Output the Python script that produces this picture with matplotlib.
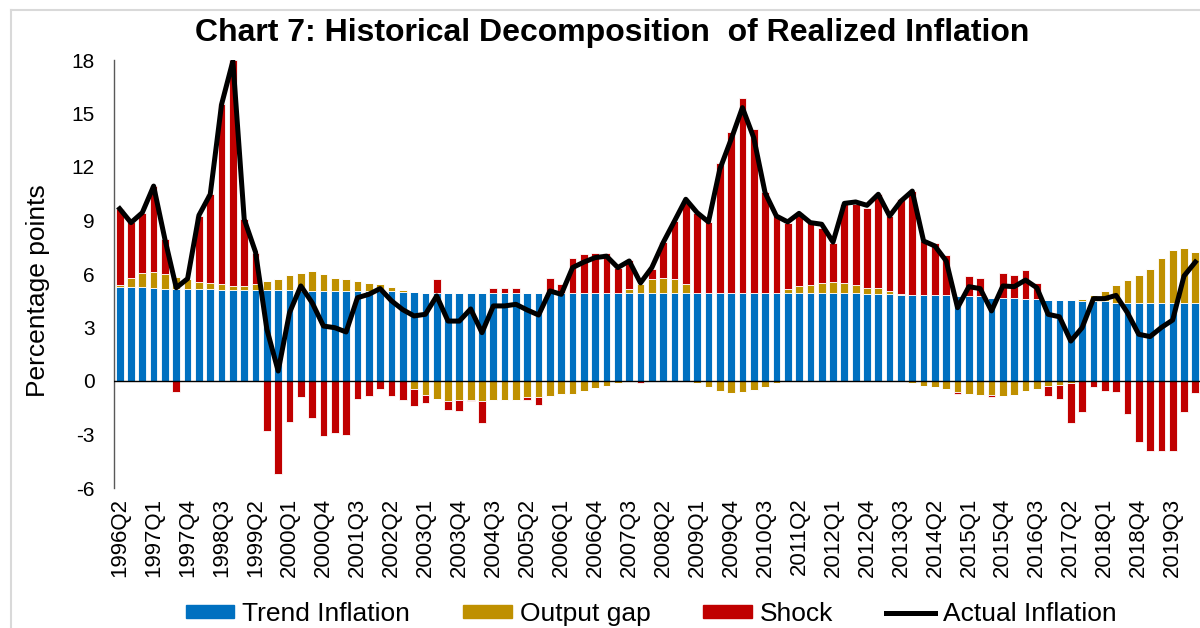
import numpy as np
import matplotlib
matplotlib.use("Agg")
import matplotlib.pyplot as plt
from matplotlib.patches import Patch
from matplotlib.lines import Line2D

plt.rcParams['font.family'] = ['Liberation Sans', 'DejaVu Sans']

# ---- data (1996Q2 .. 2020Q1) ----
quarters = [f"{y}Q{q}" for y in range(1996, 2021) for q in range(1, 5)]
quarters = quarters[quarters.index("1996Q2"):quarters.index("2020Q1") + 1]

trend = [5.25, 5.25, 5.25, 5.22, 5.18, 5.18, 5.18, 5.18, 5.18, 5.10,
         5.10, 5.10, 5.10, 5.10, 5.10, 5.10, 5.05, 5.05, 5.05, 5.05,
         5.05, 5.05, 5.05, 5.05, 5.05, 5.00, 5.00, 4.95, 4.95, 4.95,
         4.95, 4.95, 4.95, 4.95, 4.95, 4.95, 4.95, 4.95, 4.95, 4.95,
         4.95, 4.95, 4.95, 4.95, 4.95, 4.95, 4.95, 4.95, 4.95, 4.95,
         4.95, 4.95, 4.95, 4.95, 4.95, 4.95, 4.95, 4.95, 4.95, 4.95,
         4.95, 4.95, 4.95, 4.95, 4.95, 4.95, 4.87, 4.87, 4.87, 4.82,
         4.82, 4.80, 4.80, 4.80, 4.75, 4.75, 4.75, 4.68, 4.68, 4.68,
         4.62, 4.62, 4.54, 4.54, 4.54, 4.46, 4.46, 4.46, 4.40, 4.40,
         4.40, 4.40, 4.40, 4.36, 4.36, 4.36]

output_gap = [0.15, 0.50, 0.79, 0.88, 0.84, 0.67, 0.56, 0.39, 0.34, 0.36,
              0.23, 0.23, 0.36, 0.50, 0.63, 0.86, 1.02, 1.12, 0.97, 0.74,
              0.65, 0.55, 0.46, 0.41, 0.24, 0.10, -0.43, -0.80, -1.00, -1.10,
              -1.05, -1.05, -1.13, -1.05, -1.05, -1.05, -0.90, -0.87, -0.85, -0.72,
              -0.72, -0.58, -0.42, -0.26, -0.12, 0.20, 0.50, 0.79, 0.84, 0.79,
              0.50, -0.12, -0.33, -0.55, -0.68, -0.62, -0.48, -0.33, -0.12, 0.22,
              0.40, 0.46, 0.52, 0.58, 0.52, 0.46, 0.37, 0.32, 0.20, 0.05,
              -0.10, -0.30, -0.35, -0.45, -0.60, -0.72, -0.80, -0.78, -0.85, -0.80,
              -0.58, -0.45, -0.28, -0.21, -0.12, 0.12, 0.35, 0.60, 0.96, 1.26,
              1.53, 1.87, 2.50, 3.00, 3.08, 2.88]

shock = [4.23, 3.17, 3.40, 4.83, 1.96, -0.60, 0.00, 3.68, 4.95, 10.05,
         12.67, 3.74, 1.74, -2.80, -5.20, -2.30, -0.90, -2.05, -3.07, -2.90,
         -3.00, -1.00, -0.85, -0.45, -0.85, -1.05, -0.98, -0.45, 0.75, -0.55,
         -0.62, -0.08, -1.25, 0.25, 0.25, 0.28, -0.15, -0.45, 0.84, 0.50,
         1.97, 2.15, 2.25, 2.25, 1.41, 1.64, -0.10, 0.52, 2.00, 3.23,
         4.55, 4.49, 3.97, 7.25, 9.01, 10.94, 9.16, 5.65, 4.30, 3.71,
         4.05, 3.56, 3.13, 2.23, 4.44, 4.50, 4.48, 5.28, 4.18, 5.32,
         5.83, 3.05, 2.96, 2.25, -0.15, 1.14, 1.04, -0.10, 1.39, 1.26,
         1.60, 0.89, -0.58, -0.82, -2.25, -1.72, -0.32, -0.54, -0.62, -1.87,
         -3.40, -3.90, -3.95, -3.95, -1.72, -0.70]

actual = [9.66, 8.88, 9.44, 10.93, 7.94, 5.23, 5.74, 9.29, 10.47, 15.51,
          17.94, 9.07, 7.23, 2.90, 0.56, 3.83, 5.33, 4.39, 3.08, 2.99,
          2.75, 4.67, 4.86, 5.18, 4.50, 4.00, 3.65, 3.74, 4.77, 3.36,
          3.36, 4.04, 2.71, 4.21, 4.21, 4.30, 3.98, 3.70, 5.05, 4.86,
          6.36, 6.67, 6.92, 7.00, 6.36, 6.73, 5.50, 6.36, 7.76, 8.97,
          10.19, 9.44, 8.92, 11.87, 13.55, 15.33, 13.64, 10.56, 9.25, 8.92,
          9.40, 8.88, 8.79, 7.79, 9.96, 10.04, 9.85, 10.47, 9.25, 10.09,
          10.65, 7.85, 7.57, 6.73, 4.11, 5.29, 5.18, 3.93, 5.33, 5.29,
          5.66, 5.23, 3.74, 3.60, 2.24, 2.99, 4.62, 4.62, 4.80, 3.83,
          2.62, 2.49, 3.00, 3.42, 5.89, 6.67]

series_names = ["Trend Inflation", "Output gap", "Shock", "Actual Inflation"]
yticks = [-6, -3, 0, 3, 6, 9, 12, 15, 18]

# ---- styling ----
C_TREND = "#0070C0"
C_GAP = "#BF9000"
C_SHOCK = "#C00000"

fig = plt.figure(figsize=(12, 6.28), dpi=100)
ax = fig.add_axes([114 / 1200, 1 - 488 / 628, 1087 / 1200, 428 / 628])

x = np.arange(len(quarters))
t = np.array(trend)
g = np.array(output_gap)
s = np.array(shock)
gpos, gneg = np.clip(g, 0, None), np.clip(g, None, 0)
spos, sneg = np.clip(s, 0, None), np.clip(s, None, 0)

w = 0.68
kw = dict(width=w, linewidth=0.6, edgecolor="white", zorder=2)
ax.bar(x, t, color=C_TREND, **kw)
ax.bar(x, gpos, bottom=t, color=C_GAP, **kw)
ax.bar(x, gneg, bottom=0, color=C_GAP, **kw)
ax.bar(x, spos, bottom=t + gpos, color=C_SHOCK, **kw)
ax.bar(x, sneg, bottom=gneg, color=C_SHOCK, **kw)
ax.plot(x, actual, color="black", lw=3.6, zorder=4, solid_joinstyle="round")

ax.axhline(0, color="black", lw=1.0, zorder=3)

ax.set_xlim(-0.5, len(quarters) - 0.5)
ax.set_ylim(-6, 18)
ax.set_yticks(yticks)
ax.set_yticklabels([str(v) for v in yticks], fontsize=15)
ax.set_xticks(x[::3])
ax.set_xticklabels(quarters[::3], rotation=90, fontsize=16)
ax.tick_params(axis="both", length=0)
ax.tick_params(axis="y", pad=14)
ax.tick_params(axis="x", pad=7)

for sp in ["top", "right", "bottom"]:
    ax.spines[sp].set_visible(False)
ax.spines["left"].set_color("#595959")
ax.spines["left"].set_linewidth(1.0)

ax.set_ylabel("Percentage points", fontsize=19)
ax.yaxis.set_label_coords(-0.059, 0.46)

fig.text(612 / 1200, 1 - 33 / 628, "Chart 7: Historical Decomposition  of Realized Inflation",
         ha="center", va="center", fontsize=23, fontweight="bold")

handles = [Patch(color=C_TREND), Patch(color=C_GAP), Patch(color=C_SHOCK),
           Line2D([], [], color="black", lw=3.6)]
fig.legend(handles, series_names, loc="center", bbox_to_anchor=(651 / 1200, 1 - 614 / 628),
           ncol=4, frameon=False, fontsize=19, handlelength=1.85, handleheight=0.42,
           columnspacing=2.0, handletextpad=0.3, borderaxespad=0)

# light grey frame (top and left edges visible in the reference)
fig.add_artist(Line2D([11 / 1200, 1.0], [1 - 10 / 628, 1 - 10 / 628],
                      transform=fig.transFigure, color="#D9D9D9", lw=1.5))
fig.add_artist(Line2D([11 / 1200, 11 / 1200], [0, 1 - 10 / 628],
                      transform=fig.transFigure, color="#D9D9D9", lw=1.5))

fig.savefig("out.png", dpi=100)
